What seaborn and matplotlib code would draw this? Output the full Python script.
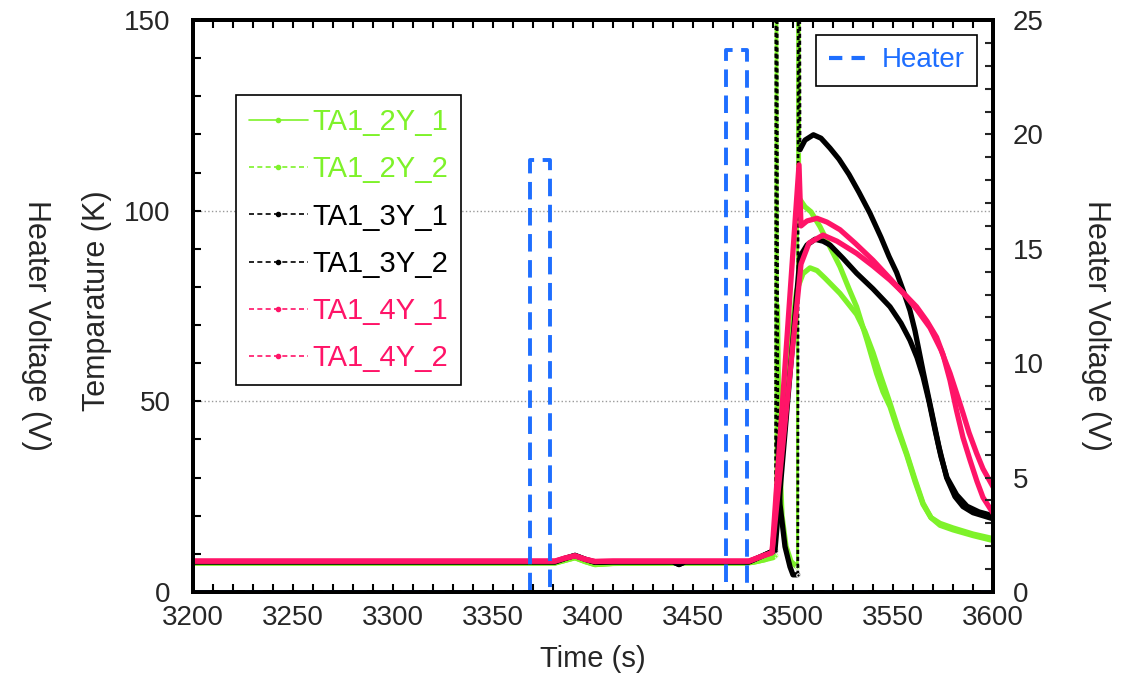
import matplotlib
matplotlib.use("Agg")
import matplotlib.pyplot as plt
from matplotlib.lines import Line2D
from matplotlib.ticker import MultipleLocator
import seaborn as sns

# ---------------- data ----------------
series_names = ["TA1_2Y_1", "TA1_2Y_2", "TA1_3Y_1", "TA1_3Y_2", "TA1_4Y_1", "TA1_4Y_2"]

base_t = [3200, 3381, 3386, 3391, 3396, 3401, 3410, 3440, 3443, 3446, 3476]
base_green = [7.6, 7.6, 8.3, 9.0, 8.0, 7.2, 7.5, 7.6, 7.6, 7.6, 7.6]
base_black = [7.9, 7.9, 8.8, 9.6, 8.6, 7.8, 7.9, 7.9, 7.2, 7.9, 7.9]
base_pink = [8.1, 8.1, 8.9, 9.5, 8.6, 8.0, 8.1, 8.1, 8.1, 8.1, 8.1]

ta2y1_t = [3480, 3486, 3490, 3491.4, 3491.6, 3492.2, 3493, 3494.5, 3496.5, 3499, 3502.2,
           3502.4, 3503.4, 3506, 3509, 3513.5, 3518, 3523.5, 3528, 3531.8, 3537, 3541.8,
           3545, 3548.5, 3552, 3556.8, 3561, 3565, 3569, 3573.5, 3580, 3590, 3600]
ta2y1_v = [7.8, 8.5, 9.0, 9.5, 300, 75, 40, 20, 12, 8, 6.5,
           300, 103, 101, 99.7, 95.8, 91, 85.3, 79.5, 74.8, 66, 57.3,
           52.5, 48.6, 43, 36, 29, 23, 19.5, 17.5, 16.3, 14.8, 13.5]

ta2y2_t = [3480, 3486, 3490, 3493.5, 3501.8, 3505, 3508.5, 3512, 3516, 3523.5, 3531.8,
           3536, 3540, 3544, 3548.5, 3552.5, 3556.8, 3561, 3565, 3569, 3573.5, 3580,
           3590, 3600]
ta2y2_v = [7.8, 8.5, 9.5, 42, 79, 83.5, 85, 84.3, 82.3, 78.3, 72.8,
           68.3, 62.8, 56.4, 49.5, 43, 36.4, 29.5, 23.3, 19.5, 18, 16.8,
           15.2, 14]

ta3y1_t = [3478, 3484, 3489, 3491.3, 3491.6, 3492.4, 3493.5, 3496, 3498.5, 3500, 3502.4,
           3502.8, 3503.5, 3506, 3510.2, 3514, 3518.5, 3523, 3528, 3533, 3538.5, 3544,
           3548, 3551.8, 3555, 3558.5, 3561, 3565, 3568, 3570, 3573, 3576.8, 3581, 3585,
           3590, 3595, 3600]
ta3y1_v = [7.9, 9.3, 10.5, 10.8, 300, 40, 23, 11.9, 6.6, 4.5, 4.5,
           300, 116, 118.5, 119.9, 119, 116.4, 113.5, 109.5, 104.8, 99.3, 93,
           88, 83.8, 79.2, 73.8, 68.5, 58, 50.5, 45.5, 38, 30, 25, 22.4,
           20.8, 20, 19.2]

ta3y2_t = [3478, 3484, 3489, 3491, 3503.5, 3507, 3511, 3515, 3518.5, 3525, 3531.8, 3540,
           3548.5, 3554, 3558.5, 3562, 3565, 3568, 3571, 3574, 3577, 3581.8, 3587,
           3593, 3600]
ta3y2_v = [7.9, 9.3, 10.5, 11, 88, 91, 92.5, 92, 91, 87.5, 83.6, 79.5,
           74.8, 70.5, 66, 61.5, 56.5, 50, 42.5, 35.5, 30, 25.5, 22.5,
           21, 20]

ta4y1_t = [3478, 3484, 3489.5, 3503, 3504, 3507, 3512, 3517, 3523.5, 3531, 3540, 3548,
           3556.8, 3562, 3568.5, 3574, 3578.5, 3582, 3585, 3588, 3591.8, 3595, 3600]
ta4y1_v = [8.1, 9.3, 10.3, 112, 96, 97.3, 98, 97, 95, 91.5, 87, 82.5,
           77.4, 74, 69.3, 63.5, 57.4, 51.8, 46.9, 41.8, 36.4, 32.3, 27.6]

ta4y2_t = [3478, 3484, 3489.5, 3504, 3508, 3515, 3522, 3531.8, 3540, 3548.5, 3555,
           3561.8, 3567, 3571.8, 3575, 3578.5, 3581.8, 3585, 3588.5, 3592, 3595, 3600]
ta4y2_v = [8.1, 9.3, 10.3, 86, 91.5, 93.6, 92, 88.8, 85.5, 81.8, 78.5,
           74.8, 71, 66.8, 62.3, 55.5, 47.5, 40.5, 34.6, 29, 24.8, 20.7]

heater_t = [3200, 3368.5, 3368.5, 3378.5, 3378.5, 3466.5, 3466.5, 3477, 3477, 3600]
heater_v = [0, 0, 18.9, 18.9, 0, 0, 23.7, 23.7, 0, 0]

x_ticks = [3200, 3250, 3300, 3350, 3400, 3450, 3500, 3550, 3600]
t_ticks = [0, 50, 100, 150]
v_ticks = [0, 5, 10, 15, 20, 25]

GREEN = "#7EF22A"
BLACK = "#000000"
PINK = "#FF1468"
BLUE = "#1E6EFF"

# ---------------- style ----------------
sns.set_theme(style="ticks")
plt.rcParams["font.family"] = ["Liberation Sans", "DejaVu Sans"]

fig = plt.figure(figsize=(11.3, 6.76), dpi=100)
ax = fig.add_axes([193 / 1130, 1 - 592 / 676, 800 / 1130, 572 / 676])


def draw(t, v, col, spike_ls):
    t = list(t)
    v = list(v)
    spikes = [i for i, y in enumerate(v) if y > t_ticks[-1]]
    start = 0
    for i in spikes:
        sns.lineplot(x=t[start:i], y=v[start:i], ax=ax, color=col, linewidth=3.8,
                     sort=False, estimator=None, legend=False)
        sns.lineplot(x=t[i - 1:i + 2], y=v[i - 1:i + 2], ax=ax, color=col, linewidth=2.0,
                     linestyle=spike_ls, marker="o", markersize=2.5,
                     sort=False, estimator=None, legend=False)
        start = i + 1
    sns.lineplot(x=t[start:], y=v[start:], ax=ax, color=col, linewidth=3.8,
                 sort=False, estimator=None, legend=False)


draw(base_t + ta2y1_t, base_green + ta2y1_v, GREEN, "-")
draw(base_t + ta2y2_t, base_green + ta2y2_v, GREEN, "-")
draw(base_t + ta3y1_t, base_black + ta3y1_v, BLACK, (0, (1.5, 1)))
draw(base_t + ta3y2_t, base_black + ta3y2_v, BLACK, (0, (1.5, 1)))
draw(base_t + ta4y1_t, base_pink + ta4y1_v, PINK, "-")
draw(base_t + ta4y2_t, base_pink + ta4y2_v, PINK, "-")

ax.set_xlim(x_ticks[0], x_ticks[-1])
ax.set_ylim(t_ticks[0], t_ticks[-1])
ax.set_xticks(x_ticks)
ax.set_yticks(t_ticks)
ax.xaxis.set_minor_locator(MultipleLocator(10))
ax.yaxis.set_minor_locator(MultipleLocator(10))
ax.set_xlabel("")
ax.set_ylabel("")
ax.grid(axis="y", which="major", color="#9a9a9a", linestyle=":", linewidth=1.0)
ax.set_axisbelow(True)
ax.tick_params(axis="both", which="both", direction="in", length=5.5, width=1.5,
               top=True, right=False, labelsize=20, color="black")
ax.tick_params(axis="x", which="major", pad=9.5)
ax.tick_params(axis="y", which="major", pad=16)
for s in ax.spines.values():
    s.set_linewidth(2.8)
    s.set_color("black")

# temperature legend
styles = ["-", (0, (3, 2)), (0, (3, 2)), (0, (3, 2)), (0, (3, 2)), (0, (3, 2))]
colors = [GREEN, GREEN, BLACK, BLACK, PINK, PINK]
handles = [Line2D([], [], color=c, linestyle=ls, linewidth=1.2, marker="o", markersize=3)
           for c, ls in zip(colors, styles)]
leg = ax.legend(handles, series_names, loc="upper left", bbox_to_anchor=(0.054, 0.869),
                frameon=True, fancybox=False, edgecolor="black", framealpha=1,
                fontsize=21, handlelength=2.0, labelspacing=0.66, borderpad=0.45,
                handletextpad=0.15, borderaxespad=0, numpoints=1)
leg.get_frame().set_linewidth(1.2)
for txt, c in zip(leg.get_texts(), colors):
    txt.set_color(c)

# heater on twin axis
ax2 = ax.twinx()
sns.lineplot(x=heater_t, y=heater_v, ax=ax2, color=BLUE, linewidth=2.8,
             sort=False, estimator=None, legend=False)
ax2.lines[-1].set_linestyle((0, (4.5, 2.2)))
ax2.set_ylim(v_ticks[0], v_ticks[-1])
ax2.set_yticks(v_ticks)
ax2.yaxis.set_minor_locator(MultipleLocator(1))
ax2.set_ylabel("")
ax2.tick_params(axis="y", which="both", direction="in", length=5.5, width=1.5,
                labelsize=20, pad=14)
for s in ax2.spines.values():
    s.set_linewidth(2.8)
    s.set_color("black")
hleg = ax2.legend([Line2D([], [], color=BLUE, linewidth=3.0, linestyle=(0, (3.2, 2.2)))],
                  ["Heater"], loc="upper right", bbox_to_anchor=(0.98, 0.974),
                  frameon=True, fancybox=False, edgecolor="black", framealpha=1,
                  fontsize=20, handlelength=1.6, borderpad=0.45, handletextpad=0.3,
                  borderaxespad=0)
hleg.get_frame().set_linewidth(1.2)
for txt in hleg.get_texts():
    txt.set_color(BLUE)

# axis titles
fig.text(593 / 1130, 1 - 659 / 676, "Time (s)", ha="center", va="center", fontsize=21)
fig.text(97 / 1130, 1 - 301 / 676, "Temparature (K)", ha="center", va="center",
         rotation=90, fontsize=22)
fig.text(36 / 1130, 1 - 325 / 676, "Heater Voltage (V)", ha="center", va="center",
         rotation=270, fontsize=22)
fig.text(1096 / 1130, 1 - 325 / 676, "Heater Voltage (V)", ha="center", va="center",
         rotation=270, fontsize=22)

fig.savefig("out.png", dpi=100)
